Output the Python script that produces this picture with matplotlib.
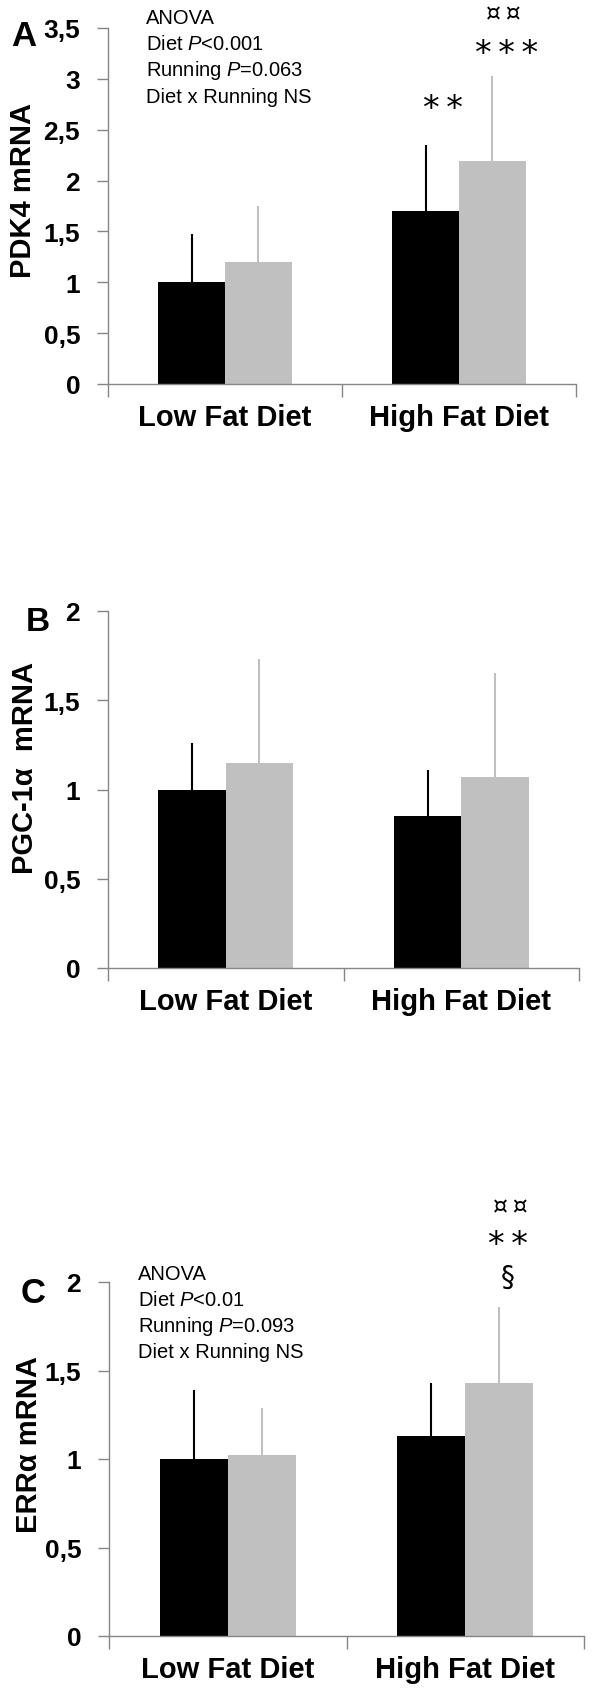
import matplotlib
matplotlib.use("Agg")
import matplotlib.pyplot as plt
import numpy as np
from matplotlib.ticker import FixedLocator, FuncFormatter

plt.rcParams['font.family'] = ['Liberation Sans', 'DejaVu Sans']
plt.rcParams['mathtext.fontset'] = 'custom'
plt.rcParams['mathtext.rm'] = 'Liberation Sans'
plt.rcParams['mathtext.it'] = 'Liberation Sans:italic'

# ---------------- data ----------------
categories = ["Low Fat Diet", "High Fat Diet"]

pdk4_sed = [1.00, 1.70]
pdk4_sed_err = [0.47, 0.65]
pdk4_run = [1.20, 2.19]
pdk4_run_err = [0.55, 0.84]

pgc_sed = [1.00, 0.85]
pgc_sed_err = [0.26, 0.26]
pgc_run = [1.15, 1.07]
pgc_run_err = [0.58, 0.58]

err_sed = [1.00, 1.13]
err_sed_err = [0.39, 0.30]
err_run = [1.02, 1.43]
err_run_err = [0.27, 0.43]

pdk4_ticks = [0, 0.5, 1, 1.5, 2, 2.5, 3, 3.5]
pgc_ticks = [0, 0.5, 1, 1.5, 2]
erra_ticks = [0, 0.5, 1, 1.5, 2]

anova_A = ["ANOVA", r"Diet $\mathit{P}$<0.001", r"Running $\mathit{P}$=0.063", "Diet x Running NS"]
anova_C = ["ANOVA", r"Diet $\mathit{P}$<0.01", r"Running $\mathit{P}$=0.093", "Diet x Running NS"]

# ---------------- layout ----------------
W, H = 600, 1699
fig = plt.figure(figsize=(W / 100, H / 100), dpi=100)

BLACK = "#000000"
GRAY = "#C0C0C0"
AXC = "#868686"
BW = 0.286
TS = "\u2009"  # thin space (DejaVu Sans has it)


def add_panel(left, right, top, bottom, sed, sed_err, run, run_err, ticks, ymax):
    ax = fig.add_axes([left / W, 1 - bottom / H, (right - left) / W, (bottom - top) / H])
    x = np.arange(len(categories))
    ax.bar(x - BW / 2, sed, BW, color=BLACK, zorder=2, linewidth=0)
    ax.bar(x + BW / 2, run, BW, color=GRAY, zorder=2, linewidth=0)
    ax.errorbar(x - BW / 2, sed, yerr=[np.zeros(len(sed)), sed_err], fmt='none',
                ecolor=BLACK, elinewidth=1.5, capsize=0, zorder=1)
    ax.errorbar(x + BW / 2, run, yerr=[np.zeros(len(run)), run_err], fmt='none',
                ecolor=GRAY, elinewidth=1.5, capsize=0, zorder=1)
    ax.set_xlim(-0.5, 1.5)
    ax.set_ylim(0, ymax)
    for s in ["top", "right"]:
        ax.spines[s].set_visible(False)
    for s in ["left", "bottom"]:
        ax.spines[s].set_color(AXC)
        ax.spines[s].set_linewidth(1.0)
    ax.yaxis.set_major_locator(FixedLocator(ticks))
    ax.yaxis.set_major_formatter(FuncFormatter(lambda v, p: ("%g" % v).replace(".", ",")))
    ax.tick_params(axis='y', direction='out', length=8, width=1, color=AXC, pad=12,
                   labelsize=19)
    for lab in ax.get_yticklabels():
        lab.set_fontweight('bold')
    ax.set_xticks(x)
    ax.set_xticklabels(categories, fontsize=21, fontweight='bold')
    ax.tick_params(axis='x', which='major', length=0, pad=14)
    ax.set_xticks([-0.5, 0.5, 1.5], minor=True)
    ax.tick_params(axis='x', which='minor', direction='out', length=9, width=1, color=AXC)
    return ax


axA = add_panel(108, 576, 29, 385, pdk4_sed, pdk4_sed_err, pdk4_run, pdk4_run_err, pdk4_ticks, 3.5)
axB = add_panel(108, 579, 612, 969, pgc_sed, pgc_sed_err, pgc_run, pgc_run_err, pgc_ticks, 2.0)
axC = add_panel(109, 584, 1283, 1637, err_sed, err_sed_err, err_run, err_run_err, erra_ticks, 2.0)


def ftext(xp, yp, s, **kw):
    fig.text(xp / W, 1 - yp / H, s, **kw)


# panel letters
ftext(11, 46, "A", fontsize=25, fontweight='bold', va='baseline')
ftext(26, 631, "B", fontsize=24, fontweight='bold', va='baseline')
ftext(21, 1303, "C", fontsize=25, fontweight='bold', va='baseline')

# y labels
ftext(23, 190, "PDK4 mRNA", fontsize=21, fontweight='bold', rotation=90, ha='center', va='center')
ftext(25, 768, "PGC-1α  mRNA", fontsize=21, fontweight='bold', rotation=90, ha='center', va='center')
ftext(29, 1445, "ERRα mRNA", fontsize=21, fontweight='bold', rotation=90, ha='center', va='center')

# ANOVA boxes
for i, line in enumerate(anova_A):
    ftext(146, 18 + i * 26.5, line, fontsize=14.5, ha='left', va='center')
for i, line in enumerate(anova_C):
    ftext(138, 1275 + i * 26, line, fontsize=14.5, ha='left', va='center')

# significance marks
sym = dict(family='DejaVu Sans', ha='center', va='center', clip_on=False)
axA.text(0.93, 2.71, TS.join("**"), fontsize=24, **sym)
axA.text(1.205, 3.25, TS.join("***"), fontsize=24, **sym)
axA.text(1.19, 3.65, TS.join("¤¤"), fontsize=17, **sym)
axC.text(1.19, 2.43, TS.join("¤¤"), fontsize=17, **sym)
axC.text(1.18, 2.21, TS.join("**"), fontsize=24, **sym)
axC.text(1.18, 2.03, "§", fontsize=20, **sym)

fig.savefig("out.png", dpi=100, facecolor='white')
